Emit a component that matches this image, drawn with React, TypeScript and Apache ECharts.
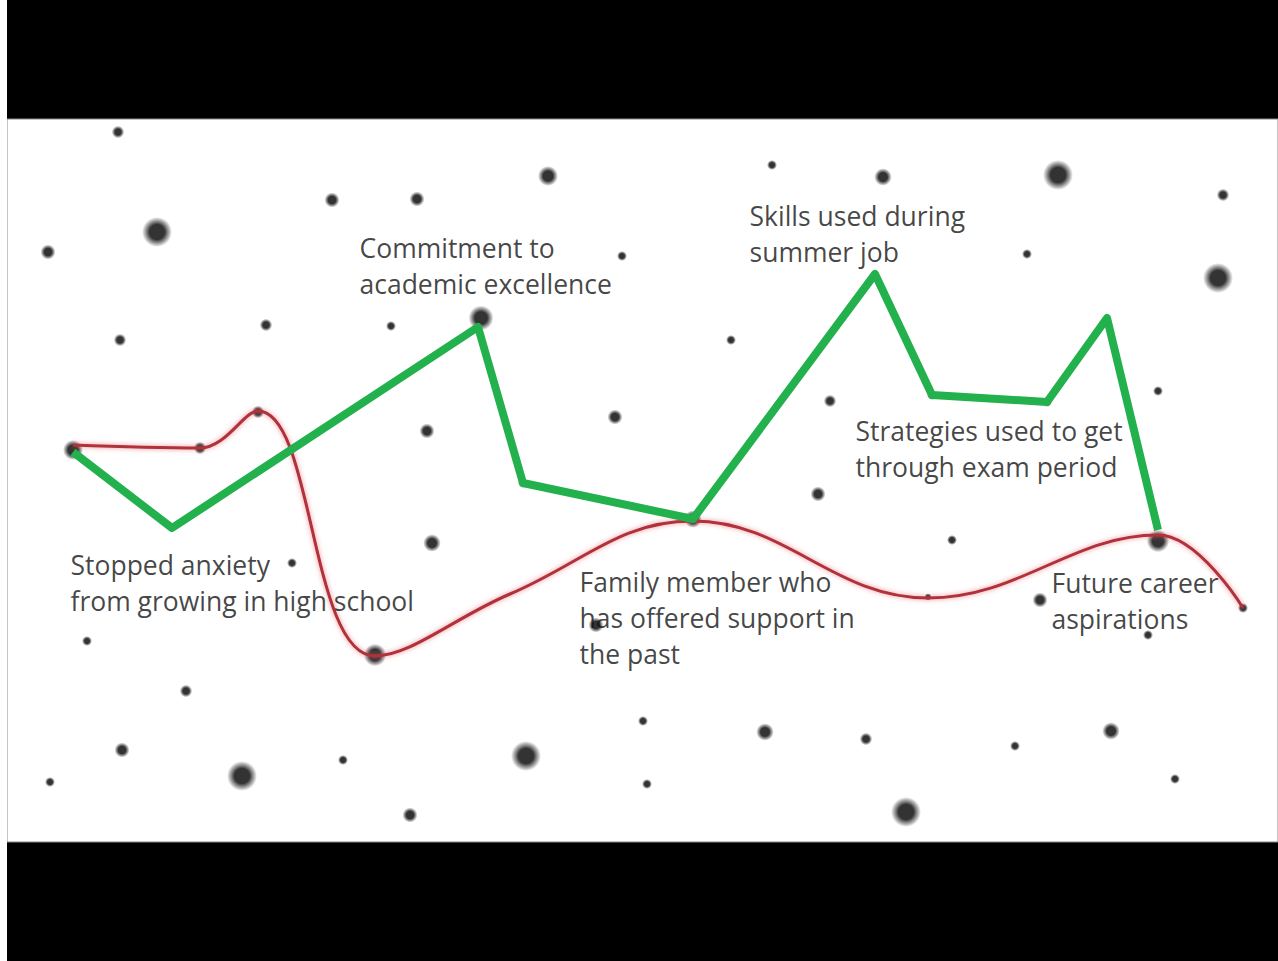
import React, { useEffect, useRef } from "react";
import * as echarts from "echarts";

// Plot space: x = horizontal position, y = vertical position (top = 119, bottom = 842)
const X_RANGE = [7, 1278];
const Y_RANGE = [119, 842];

// Stars: [x, y, magnitude]
const stars: number[][] = [
  [118, 132, 5], [157, 232, 12], [48, 252, 6], [332, 200, 6], [417, 199, 6],
  [548, 176, 8], [622, 256, 4], [772, 165, 4], [883, 177, 7], [1058, 175, 12],
  [1223, 195, 5], [1218, 278, 12], [1027, 254, 4], [120, 340, 5], [266, 325, 5],
  [391, 326, 4], [481, 318, 10], [731, 340, 4], [830, 401, 5], [1158, 391, 4],
  [615, 417, 6], [427, 431, 6], [73, 450, 8], [200, 448, 5], [258, 412, 5],
  [523, 483, 4], [818, 494, 6], [693, 519, 7], [432, 543, 7], [292, 563, 4],
  [952, 540, 4], [1040, 600, 6], [1148, 635, 4], [1158, 541, 9], [1243, 608, 4],
  [87, 641, 4], [375, 655, 9], [596, 625, 6], [928, 597, 3], [186, 691, 5],
  [122, 750, 6], [242, 776, 12], [343, 760, 4], [50, 782, 4], [526, 756, 12],
  [410, 815, 6], [643, 721, 4], [647, 784, 4], [765, 732, 7], [866, 739, 5],
  [906, 812, 12], [1015, 746, 4], [1111, 731, 7], [1175, 779, 4],
  [932, 395, 4], [1047, 402, 4],
];

// Green constellation path
const greenPath: number[][] = [
  [73, 452], [172, 528], [478, 327], [523, 483], [693, 519],
  [875, 274], [932, 395], [1047, 402], [1107, 318], [1158, 530],
];

// Red smooth path
const redPath: number[][] = [
  [73, 445], [200, 448], [258, 411], [375, 656],
  [510, 594], [693, 521], [928, 598], [1158, 535], [1243, 608],
];

// Annotations
const labelTexts: string[] = [
  "Commitment to\nacademic excellence",
  "Skills used during\nsummer job",
  "Stopped anxiety\nfrom growing in high school",
  "Family member who\nhas offered support in\nthe past",
  "Strategies used to get\nthrough exam period",
  "Future career\naspirations",
];
const labelAnchors: number[][] = [
  [360, 230], [750, 198], [71, 547], [580, 564], [856, 413], [1052, 565],
];

export default function App() {
  const ref = useRef<HTMLDivElement>(null);
  useEffect(() => {
    if (!ref.current) return;
    const chart = echarts.init(ref.current, undefined, { renderer: "svg" });
    const starColor = {
      type: "radial",
      x: 0.5,
      y: 0.5,
      r: 0.5,
      colorStops: [
        { offset: 0, color: "rgba(0,0,0,1)" },
        { offset: 0.5, color: "rgba(0,0,0,1)" },
        { offset: 0.75, color: "rgba(0,0,0,0.5)" },
        { offset: 1, color: "rgba(0,0,0,0)" },
      ],
    };
    chart.setOption({
      animation: false,
      backgroundColor: "#000",
      grid: {
        left: 0,
        right: 0,
        top: 119,
        bottom: 119,
        show: true,
        backgroundColor: "#ffffff",
        borderColor: "#8a8a8a",
        borderWidth: 1,
      },
      xAxis: { type: "value", min: X_RANGE[0], max: X_RANGE[1], show: false },
      yAxis: { type: "value", min: Y_RANGE[0], max: Y_RANGE[1], inverse: true, show: false },
      series: [
        {
          type: "scatter",
          data: stars,
          symbol: "circle",
          symbolSize: (v: number[]) => v[2] * 2.5,
          itemStyle: { color: starColor as any },
          silent: true,
          z: 1,
        },
        {
          type: "line",
          data: redPath,
          smooth: 0.4,
          showSymbol: false,
          lineStyle: {
            color: "#b0303b",
            width: 3,
            shadowBlur: 5,
            shadowColor: "rgba(230,90,100,0.7)",
          },
          z: 2,
        },
        {
          type: "line",
          data: greenPath,
          smooth: false,
          showSymbol: false,
          lineStyle: { color: "#22b14c", width: 8, join: "round" } as any,
          z: 3,
        },
        {
          type: "scatter",
          data: labelAnchors.map((p, i) => ({ value: p, name: labelTexts[i] })),
          symbolSize: 1,
          itemStyle: { color: "rgba(0,0,0,0)" },
          silent: true,
          z: 4,
          label: {
            show: true,
            position: [0, 0],
            align: "left",
            verticalAlign: "top",
            formatter: (p: any) => p.name,
            fontFamily: "Open Sans",
            fontSize: 26.5,
            lineHeight: 36,
            color: "#141414",
          },
        },
      ],
    });
    return () => chart.dispose();
  }, []);
  return (
    <div
      ref={ref}
      style={{ position: "absolute", left: 7, top: 0, width: 1271, height: 961 }}
    />
  );
}
